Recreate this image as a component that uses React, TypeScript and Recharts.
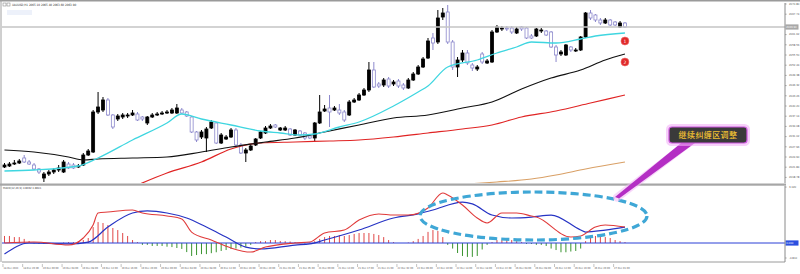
import React from "react";
import { ComposedChart, Bar, Line, XAxis, YAxis, ReferenceLine, ReferenceDot } from "recharts";

// ---------- candle data (H1, price) ----------
const OPEN = [
  2021.9, 2022.2, 2022.8, 2023.1, 2024.6, 2023.4, 2022.5, 2021.3, 2018.6, 2019.8,
  2020.4, 2021.0, 2020.4, 2022.8, 2022.5, 2021.9, 2022.5, 2025.5, 2026.4, 2038.4,
  2039.0, 2042.0, 2037.5, 2036.3, 2036.9, 2037.2, 2037.5, 2037.8, 2036.9, 2035.1,
  2036.9, 2037.5, 2037.8, 2038.1, 2038.1, 2038.1, 2039.0, 2038.4, 2036.9, 2032.4,
  2030.9, 2030.6, 2033.6, 2035.1, 2029.1, 2030.3, 2030.9, 2033.0, 2028.5, 2026.1,
  2027.0, 2028.5, 2030.6, 2032.1, 2033.6, 2034.5, 2033.0, 2033.0, 2033.3, 2031.5,
  2032.7, 2032.1, 2031.2, 2030.6, 2035.1, 2038.7, 2039.6, 2039.0, 2039.0, 2038.4,
  2037.5, 2041.4, 2042.0, 2043.5, 2045.0, 2051.0, 2046.8, 2046.5, 2048.3, 2046.8,
  2047.7, 2046.5, 2045.6, 2048.0, 2049.8, 2051.9, 2054.6, 2060.6, 2059.4, 2066.9,
  2068.4, 2059.4, 2051.9, 2054.0, 2056.1, 2052.5, 2051.3, 2055.8, 2053.1, 2053.4,
  2062.4, 2063.3, 2063.6, 2063.6, 2062.1, 2063.9, 2063.6, 2061.2, 2061.2, 2062.7,
  2062.7, 2062.4, 2057.9, 2055.8, 2055.5, 2057.9, 2056.7, 2057.0, 2060.9, 2068.1,
  2067.5, 2066.0, 2065.1, 2066.0, 2065.4, 2063.9, 2065.1,
];
const HIGH = [
  2023.1, 2023.4, 2024.0, 2024.3, 2025.5, 2024.0, 2023.1, 2021.6, 2020.4, 2021.0,
  2021.6, 2022.5, 2024.0, 2023.4, 2023.1, 2022.8, 2026.1, 2027.3, 2039.0, 2044.4,
  2042.9, 2042.6, 2037.8, 2037.8, 2038.1, 2038.1, 2039.0, 2038.4, 2037.2, 2037.2,
  2038.1, 2038.4, 2038.7, 2039.0, 2039.6, 2040.8, 2039.6, 2038.7, 2037.2, 2032.7,
  2033.0, 2033.9, 2036.0, 2035.4, 2032.1, 2031.5, 2033.6, 2033.6, 2029.1, 2027.6,
  2028.8, 2030.6, 2032.7, 2034.2, 2034.8, 2034.8, 2033.9, 2034.2, 2033.6, 2033.3,
  2033.0, 2032.4, 2031.5, 2035.4, 2043.5, 2040.5, 2043.5, 2040.2, 2040.8, 2039.0,
  2042.0, 2042.6, 2044.1, 2045.6, 2053.4, 2053.4, 2047.4, 2048.6, 2048.9, 2048.0,
  2048.3, 2047.1, 2048.6, 2050.4, 2052.5, 2054.9, 2060.6, 2062.1, 2069.0, 2069.6,
  2070.5, 2060.0, 2054.9, 2057.0, 2057.0, 2053.1, 2052.5, 2056.4, 2054.3, 2063.0,
  2064.5, 2064.2, 2064.2, 2064.2, 2063.9, 2064.2, 2063.9, 2061.8, 2063.6, 2063.6,
  2063.0, 2062.7, 2058.5, 2057.0, 2058.8, 2058.2, 2057.6, 2061.2, 2068.4, 2069.0,
  2067.8, 2066.6, 2066.6, 2066.3, 2065.7, 2065.7, 2065.4,
];
const LOW = [
  2021.6, 2021.9, 2022.5, 2022.8, 2023.1, 2022.5, 2021.0, 2019.8, 2017.4, 2019.2,
  2019.8, 2020.4, 2020.1, 2021.3, 2021.3, 2021.6, 2022.2, 2025.2, 2026.1, 2037.8,
  2038.4, 2037.2, 2033.3, 2035.7, 2036.3, 2036.6, 2037.2, 2035.7, 2035.7, 2034.5,
  2036.6, 2037.2, 2037.5, 2037.8, 2037.8, 2037.8, 2037.8, 2036.9, 2032.1, 2029.4,
  2030.3, 2026.4, 2033.3, 2028.8, 2028.8, 2030.0, 2030.6, 2028.2, 2025.8, 2023.4,
  2026.7, 2028.2, 2030.3, 2031.8, 2033.3, 2033.6, 2032.7, 2032.7, 2031.2, 2031.2,
  2031.2, 2030.0, 2030.3, 2029.4, 2034.8, 2038.4, 2033.9, 2038.7, 2037.5, 2035.4,
  2037.2, 2041.1, 2041.7, 2043.2, 2044.4, 2045.6, 2045.6, 2045.9, 2045.6, 2046.2,
  2045.6, 2045.0, 2045.3, 2047.7, 2049.5, 2051.6, 2054.3, 2057.0, 2058.8, 2066.0,
  2058.8, 2051.0, 2048.9, 2053.4, 2052.5, 2050.7, 2050.7, 2052.8, 2052.8, 2053.1,
  2062.1, 2062.7, 2062.7, 2061.8, 2061.8, 2062.7, 2060.3, 2060.3, 2060.9, 2062.1,
  2061.2, 2057.6, 2053.4, 2055.2, 2055.2, 2056.4, 2056.4, 2056.7, 2060.6, 2066.0,
  2065.4, 2064.5, 2064.8, 2064.2, 2064.2, 2063.6, 2063.6,
];
const CLOSE = [
  2022.5, 2022.8, 2023.1, 2023.7, 2023.4, 2022.8, 2021.3, 2020.4, 2019.8, 2020.4,
  2021.0, 2021.6, 2023.4, 2021.6, 2021.6, 2022.2, 2025.5, 2026.7, 2038.4, 2039.9,
  2042.0, 2037.5, 2033.9, 2037.2, 2037.5, 2037.5, 2038.1, 2036.0, 2036.3, 2036.9,
  2037.5, 2037.8, 2038.1, 2038.4, 2039.0, 2039.6, 2038.1, 2037.2, 2032.4, 2030.0,
  2032.4, 2033.3, 2035.4, 2029.1, 2031.5, 2030.9, 2033.0, 2028.5, 2026.1, 2027.0,
  2028.2, 2030.3, 2032.4, 2033.6, 2034.2, 2033.9, 2033.6, 2033.6, 2031.5, 2033.0,
  2031.5, 2030.6, 2030.6, 2035.1, 2038.4, 2039.3, 2038.4, 2039.6, 2038.1, 2036.0,
  2041.4, 2042.0, 2043.5, 2045.0, 2051.0, 2045.9, 2046.2, 2048.0, 2046.2, 2047.4,
  2046.2, 2045.6, 2048.0, 2049.8, 2051.9, 2054.3, 2059.7, 2059.1, 2066.6, 2068.1,
  2059.4, 2051.9, 2054.0, 2056.1, 2053.1, 2051.6, 2051.9, 2053.4, 2053.7, 2062.4,
  2063.9, 2063.6, 2063.3, 2062.4, 2063.3, 2063.3, 2060.6, 2060.6, 2063.3, 2063.0,
  2061.5, 2057.9, 2055.5, 2056.4, 2058.5, 2057.0, 2057.0, 2060.9, 2068.1, 2066.6,
  2066.0, 2065.1, 2066.0, 2064.5, 2064.5, 2065.1, 2063.9,
];

// ---------- moving averages, read at [candle index, price] ----------
const MA_CYAN: [number, number][] = [
  [0, 2020.7], [6, 2021.0], [15, 2022.2], [19, 2024.6], [26, 2030.0], [33, 2035.1],
  [36, 2037.8], [40, 2036.3], [46, 2034.5], [52, 2032.7], [56, 2032.1], [60, 2031.5],
  [63, 2031.8], [68, 2033.9], [72, 2035.4], [79, 2040.2], [84, 2044.4], [86, 2046.2],
  [90, 2051.9], [96, 2054.0], [100, 2056.1], [104, 2057.9], [107, 2059.4], [112, 2059.1],
  [117, 2060.3], [120, 2061.2], [126, 2062.1],
];
const MA_BLACK: [number, number][] = [
  [0, 2027.0], [6, 2026.4], [13, 2024.9], [16, 2024.0], [19, 2024.3], [26, 2024.6],
  [33, 2024.9], [40, 2026.4], [46, 2027.9], [53, 2029.4], [59, 2030.6], [65, 2032.4],
  [72, 2034.5], [79, 2036.6], [86, 2037.5], [93, 2039.6], [99, 2041.4], [105, 2045.3],
  [111, 2048.6], [117, 2051.0], [122, 2054.0], [126, 2055.8],
];
const MA_RED: [number, number][] = [
  [27, 2016.5], [33, 2020.1], [40, 2023.4], [46, 2027.3], [52, 2029.1], [59, 2029.4],
  [66, 2029.7], [72, 2030.0], [79, 2030.9], [86, 2032.1], [93, 2033.3], [99, 2034.5],
  [105, 2036.9], [112, 2038.7], [119, 2041.1], [126, 2043.5],
];
const MA_TAN: [number, number][] = [
  [94, 2016.8], [100, 2017.4], [107, 2018.3], [112, 2019.5], [118, 2021.3], [126, 2023.4],
];

// ---------- MACD pane ----------
const MACD_MAIN: [number, number][] = [
  [0, 0.0], [6, 0.05], [13, -0.11], [16, 0.27], [18, 0.97], [19, 1.62], [21, 1.67],
  [26, 1.78], [28, 1.62], [33, 1.46], [36, 1.3], [38, 0.59], [42, 0.16], [46, -0.27],
  [50, -0.49], [53, -0.22], [59, 0.0], [62, 0.05], [65, 0.54], [69, 0.7], [72, 1.24],
  [76, 1.57], [79, 1.51], [82, 1.51], [86, 1.89], [89, 2.7], [90, 2.59], [93, 2.05],
  [96, 1.35], [98, 1.08], [101, 1.62], [104, 1.62], [107, 1.46], [108, 1.4], [115, 0.32],
  [117, 0.38], [120, 0.86], [122, 0.97], [126, 0.86],
];
const MACD_SIGNAL: [number, number][] = [
  [0, -0.59], [5, 0.0], [13, -0.05], [17, 0.05], [21, 0.86], [26, 1.62], [29, 1.73],
  [33, 1.62], [37, 1.35], [41, 0.86], [45, 0.32], [49, -0.22], [52, -0.32], [59, -0.11],
  [62, -0.05], [65, 0.16], [72, 0.7], [79, 1.35], [84, 1.57], [87, 1.78], [93, 2.21],
  [95, 2.11], [99, 1.51], [103, 1.35], [107, 1.4], [111, 1.51], [117, 0.7], [118, 0.59],
  [122, 0.7], [126, 0.86],
];
const MACD_HIST = [
  0.38, 0.38, 0.32, 0.32, 0.22, 0.11,
  -0.03, -0.05, -0.05, -0.05, -0.05, -0.03, 0.03, 0.05, 0.05, 0.1,
  0.16, 0.27, 0.86, 1.13, 1.08, 0.97, 0.81, 0.7, 0.54, 0.38, 0.16, 0.05,
  -0.1, -0.1, -0.16, -0.16, -0.16, -0.2, -0.22, -0.27, -0.32, -0.49, -0.7, -0.65,
  -0.6, -0.6, -0.55, -0.5, -0.43, -0.38, -0.32, -0.3, -0.25, -0.2, -0.1,
  0.05, 0.1, 0.1, 0.16, 0.16, 0.11, 0.1, 0.08, 0.05, 0.03, -0.03, 0.03,
  0.1, 0.22, 0.32, 0.38, 0.38, 0.43, 0.38, 0.43, 0.49, 0.54, 0.54, 0.54, 0.49, 0.43, 0.32, 0.16, 0.05,
  0.0, 0.0, 0.03, 0.1, 0.22, 0.38, 0.6, 0.7, 0.65, 0.32,
  -0.1, -0.3, -0.54, -0.7, -0.75, -0.75, -0.7, -0.35, -0.1, 0.05,
  0.16, 0.16, 0.16, 0.16, 0.1, 0.05,
  -0.05, -0.05, -0.1, -0.1, -0.16, -0.3, -0.38, -0.5, -0.5, -0.46, -0.43, -0.3,
  0.1, 0.27, 0.38, 0.38, 0.32, 0.27, 0.16, 0.1, 0.05,
];

// ---------- axes / labels ----------
const PRICE_TICKS = [
  2070.8, 2067.74, 2061.62, 2058.56, 2055.5, 2052.44, 2049.38, 2046.32, 2043.26,
  2040.2, 2037.14, 2034.08, 2031.02, 2027.96, 2024.9, 2021.84, 2018.78,
];
const PRICE_DOMAIN: [number, number] = [2017.1, 2071.1];
const MACD_DOMAIN: [number, number] = [-1.026, 3.078];
const MACD_TICKS = [3.02, -0.81];
const TIME_STEP = 4;
const TIME_LABELS = [
  "18 Dec 2023", "18 Dec 20:00", "19 Dec 00:00", "19 Dec 04:00", "19 Dec 08:00", "19 Dec 12:00",
  "19 Dec 16:00", "19 Dec 20:00", "20 Dec 00:00", "20 Dec 04:00", "20 Dec 08:00", "20 Dec 12:00",
  "20 Dec 16:00", "20 Dec 20:00", "21 Dec 01:00", "21 Dec 05:00", "21 Dec 09:00", "21 Dec 13:00",
  "21 Dec 17:00", "21 Dec 21:00", "22 Dec 02:00", "22 Dec 06:00", "22 Dec 10:00", "22 Dec 14:00",
  "22 Dec 18:00", "22 Dec 22:00", "26 Dec 04:00", "26 Dec 08:00", "26 Dec 12:00", "26 Dec 16:00",
  "26 Dec 20:00", "27 Dec 01:00",
];
const MARKERS = [
  { slot: 126, price: 2059.7, text: "1" },
  { slot: 126, price: 2053.4, text: "2" },
];
const TITLE = "XAUUSD,H1  2065.10 2065.40 2063.60 2063.90";
const MACD_TITLE = "MACD(12,26,9) 0.8632 0.8601";
const CALLOUT = "继续纠缠区调整";
const TOTAL_SLOTS = 159;

// ---------- build tables ----------
const N = OPEN.length;
const mainData: any[] = Array.from({ length: TOTAL_SLOTS }, (_, s) =>
  s < N
    ? { slot: s, o: OPEN[s], h: HIGH[s], l: LOW[s], c: CLOSE[s], range: [LOW[s], HIGH[s]] }
    : { slot: s }
);
const macdData: any[] = Array.from({ length: TOTAL_SLOTS }, (_, s) =>
  s < N ? { slot: s, hist: MACD_HIST[s] } : { slot: s }
);
const put = (rows: any[], pts: [number, number][], key: string) =>
  pts.forEach(([i, v]) => {
    rows[i][key] = v;
  });
put(mainData, MA_CYAN, "maCyan");
put(mainData, MA_BLACK, "maBlack");
put(mainData, MA_RED, "maRed");
put(mainData, MA_TAN, "maTan");
put(macdData, MACD_MAIN, "macd");
put(macdData, MACD_SIGNAL, "signal");

const FONT = "'DejaVu Sans', sans-serif";
const SMALL = "'DejaVu Sans Condensed', 'Liberation Sans Narrow', 'DejaVu Sans', sans-serif";

const Candle = (props: any) => {
  const { x, y, width, height, payload } = props;
  if (!payload || payload.o == null) return <g />;
  const { o, h, l, c } = payload;
  const top0 = Math.min(y, y + height);
  const hh = Math.abs(height);
  const span = h - l;
  const py = (v: number) => (span > 0 ? top0 + ((h - v) / span) * hh : top0);
  const bull = c >= o;
  const bTop = py(Math.max(o, c));
  const bBot = py(Math.min(o, c));
  const cx = x + width / 2;
  const col = bull ? "#000000" : "#8c88cc";
  return (
    <g>
      <line x1={cx} x2={cx} y1={top0} y2={top0 + hh} stroke={col} strokeWidth={1} />
      <rect
        x={x}
        y={bTop}
        width={width}
        height={Math.max(bBot - bTop, 0.8)}
        fill={bull ? "#000000" : "#ffffff"}
        stroke={col}
        strokeWidth={0.8}
      />
    </g>
  );
};

const HistBar = (props: any) => {
  const { x, y, width, height, payload } = props;
  if (!payload || payload.hist == null || payload.hist === 0) return <g />;
  const top = Math.min(y, y + height);
  return (
    <rect x={x} y={top} width={width} height={Math.abs(height)} fill={payload.hist > 0 ? "#e04848" : "#3a9430"} />
  );
};

const PriceTick = (props: any) => {
  const { x, y, payload } = props;
  return (
    <text x={x + 0.5} y={y} fontSize={2.8} fill="#555" dominantBaseline="middle" fontFamily={SMALL}>
      {Number(payload.value).toFixed(2)}
    </text>
  );
};
const MacdTick = (props: any) => {
  const { x, y, payload } = props;
  return (
    <text x={x + 0.5} y={y} fontSize={2.8} fill="#555" dominantBaseline="middle" fontFamily={SMALL}>
      {Number(payload.value).toFixed(3)}
    </text>
  );
};
const TimeTick = (props: any) => {
  const { x, y, payload } = props;
  const s = Number(payload.value);
  if (s % TIME_STEP !== 0 || s / TIME_STEP >= TIME_LABELS.length) return <g />;
  return (
    <g>
      <line x1={x - 1.5} x2={x - 1.5} y1={y} y2={y + 3} stroke="#999" strokeWidth={0.6} />
      <text x={x - 1} y={y + 4.5} fontSize={2.6} fill="#555" dominantBaseline="middle" fontFamily={SMALL}>
        {TIME_LABELS[s / TIME_STEP]}
      </text>
    </g>
  );
};

const AxisTag = ({ viewBox, text, bg, fg }: any) => {
  if (!viewBox) return null;
  const x = viewBox.x + viewBox.width;
  const y = viewBox.y;
  return (
    <g>
      <rect x={x + 0.5} y={y - 2.6} width={13} height={5.2} fill={bg} />
      <text x={x + 1.2} y={y} fontSize={2.8} fill={fg} dominantBaseline="middle" fontFamily={SMALL}>
        {text}
      </text>
    </g>
  );
};

export default function App() {
  const last = CLOSE[N - 1];
  return (
    <div style={{ position: "absolute", left: 0, top: 0, width: 800, height: 274, background: "#fff", overflow: "hidden", fontFamily: FONT }}>
      <div style={{ position: "absolute", left: 0, top: 0 }}>
        <ComposedChart width={800} height={185} data={mainData} margin={{ top: 3, right: 0, bottom: 2, left: 2 }}>
          <XAxis dataKey="slot" hide />
          <YAxis
            orientation="right"
            width={15}
            domain={PRICE_DOMAIN}
            ticks={PRICE_TICKS}
            interval={0}
            allowDataOverflow
            tick={PriceTick}
            tickSize={1.5}
            tickLine={{ stroke: "#999" }}
            axisLine={{ stroke: "#8a8a8a" }}
          />
          <ReferenceLine
            y={last}
            stroke="#c4c4c4"
            strokeWidth={1.5}
            label={{ content: (p: any) => <AxisTag viewBox={p.viewBox} text={last.toFixed(2)} bg="#a8a8a8" fg="#fff" /> }}
          />
          <Line dataKey="maTan" stroke="#d9a066" strokeWidth={1.1} dot={false} connectNulls type="monotone" isAnimationActive={false} />
          <Line dataKey="maRed" stroke="#e02424" strokeWidth={1.2} dot={false} connectNulls type="monotone" isAnimationActive={false} />
          <Line dataKey="maBlack" stroke="#111" strokeWidth={1.2} dot={false} connectNulls type="monotone" isAnimationActive={false} />
          <Line dataKey="maCyan" stroke="#3fd6e0" strokeWidth={1.3} dot={false} connectNulls type="monotone" isAnimationActive={false} />
          <Bar dataKey="range" barSize={3} shape={Candle} isAnimationActive={false} />
          {MARKERS.map((m) => (
            <ReferenceDot
              key={m.text}
              x={m.slot}
              y={m.price}
              r={4}
              fill="#e02a2a"
              stroke="#f07070"
              strokeWidth={0.6}
              label={{ value: m.text, position: "center", fill: "#fff", fontSize: 4.5 }}
            />
          ))}
        </ComposedChart>
      </div>
      <div style={{ position: "absolute", left: 0, top: 186 }}>
        <ComposedChart width={800} height={88} data={macdData} margin={{ top: 0, right: 0, bottom: 0, left: 2 }}>
          <XAxis dataKey="slot" interval={0} height={12} tick={TimeTick} tickLine={false} tickSize={0} axisLine={{ stroke: "#9a9a9a" }} />
          <YAxis
            orientation="right"
            width={15}
            domain={MACD_DOMAIN}
            ticks={MACD_TICKS}
            interval={0}
            allowDataOverflow
            tick={MacdTick}
            tickSize={1.5}
            tickLine={{ stroke: "#999" }}
            axisLine={{ stroke: "#8a8a8a" }}
          />
          <ReferenceLine
            y={0}
            stroke="#2b3fd6"
            strokeWidth={1}
            label={{ content: (p: any) => <AxisTag viewBox={p.viewBox} text="0.000" bg="#2b4fe0" fg="#fff" /> }}
          />
          <Bar dataKey="hist" barSize={1} shape={HistBar} isAnimationActive={false} />
          <Line dataKey="signal" stroke="#2633c4" strokeWidth={1.2} dot={false} connectNulls type="monotone" isAnimationActive={false} />
          <Line dataKey="macd" stroke="#e03a3a" strokeWidth={1.1} dot={false} connectNulls type="monotone" isAnimationActive={false} />
        </ComposedChart>
      </div>
      <svg width={800} height={274} style={{ position: "absolute", left: 0, top: 0, pointerEvents: "none" }}>
        <line x1={0} x2={800} y1={0.75} y2={0.75} stroke="#9a9a9a" strokeWidth={1.5} />
        <line x1={1} x2={1} y1={0} y2={262} stroke="#a0a0a0" strokeWidth={1} />
        <rect x={0} y={183.5} width={786} height={2.2} fill="#a6a6a6" />
        <rect x={3} y={3} width={3} height={3} fill="#fff" stroke="#777" strokeWidth={0.5} />
        <rect x={7} y={3} width={3} height={3} fill="#fff" stroke="#777" strokeWidth={0.5} />
        <text x={12} y={4.8} fontSize={3} fill="#333" dominantBaseline="middle" fontFamily={SMALL}>{TITLE}</text>
        <rect x={7} y={10} width={25} height={5} fill="#edf1fa" />
        <text x={3} y={188} fontSize={2.8} fill="#444" dominantBaseline="middle" fontFamily={SMALL}>{MACD_TITLE}</text>
        <ellipse cx={533.5} cy={216} rx={113.5} ry={24} fill="none" stroke="#3fa7d6" strokeWidth={3.2} strokeDasharray="8 4" />
        <line x1={690} y1={142} x2={617} y2={197.5} stroke="#f3b8f7" strokeWidth={8} strokeLinecap="round" opacity={0.55} />
        <polygon points="683,141.5 697,141.5 619,198.5 615,197" fill="#b42ec4" />
        <rect x={667.5} y={125.5} width={81} height={19} rx={4} fill="none" stroke="#f2b0f6" strokeWidth={3} opacity={0.6} />
        <rect x={669} y={127} width={78} height={16} rx={3} fill="#3a3a3a" stroke="#cc55dd" strokeWidth={1.2} />
        <text x={708} y={135.5} fontSize={8} fill="#f2c232" textAnchor="middle" dominantBaseline="middle" fontFamily="'Noto Sans CJK SC', sans-serif" fontWeight={500} letterSpacing={0.4}>
          {CALLOUT}
        </text>
      </svg>
    </div>
  );
}
